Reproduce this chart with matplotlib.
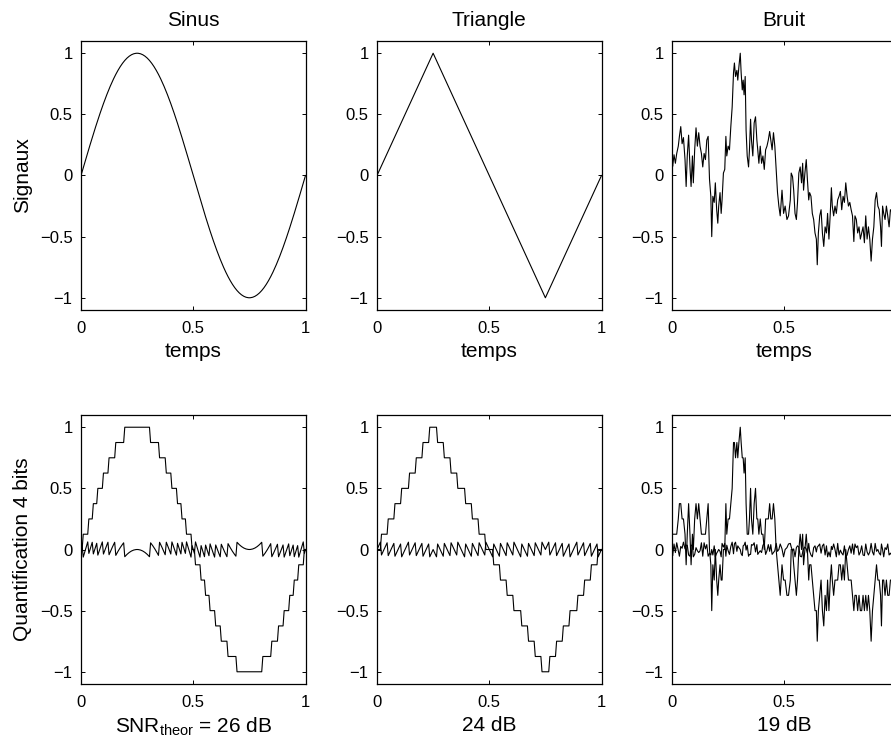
"""
Quantification 4 bits : sinus, triangle et bruit
"""
import numpy as np
import matplotlib
matplotlib.use('Agg')
import matplotlib.pyplot as plt

plt.rcParams['font.family'] = ['Liberation Sans', 'DejaVu Sans']
plt.rcParams['mathtext.fontset'] = 'custom'
plt.rcParams['mathtext.rm'] = 'Liberation Sans'
plt.rcParams['axes.unicode_minus'] = True

# --- data ---
titles = ['Sinus', 'Triangle', 'Bruit']
snr_labels = [r'SNR$_{\mathregular{theor}}$ = 26 dB', '24 dB', '19 dB']
row_labels = ['Signaux', 'Quantification 4 bits']
n_bits = 4

# first quarter period (0 -> 0.25), step 0.005
sinus_quarter = [0.0000, 0.0314, 0.0628, 0.0941, 0.1253, 0.1564, 0.1874, 0.2181,
                 0.2487, 0.2790, 0.3090, 0.3387, 0.3681, 0.3971, 0.4258, 0.4540,
                 0.4818, 0.5090, 0.5358, 0.5621, 0.5878, 0.6129, 0.6374, 0.6613,
                 0.6845, 0.7071, 0.7290, 0.7501, 0.7705, 0.7902, 0.8090, 0.8271,
                 0.8443, 0.8607, 0.8763, 0.8910, 0.9048, 0.9178, 0.9298, 0.9409,
                 0.9511, 0.9603, 0.9686, 0.9759, 0.9823, 0.9877, 0.9921, 0.9956,
                 0.9980, 0.9995, 1.0000]
triangle_quarter = [0.00, 0.02, 0.04, 0.06, 0.08, 0.10, 0.12, 0.14, 0.16, 0.18,
                    0.20, 0.22, 0.24, 0.26, 0.28, 0.30, 0.32, 0.34, 0.36, 0.38,
                    0.40, 0.42, 0.44, 0.46, 0.48, 0.50, 0.52, 0.54, 0.56, 0.58,
                    0.60, 0.62, 0.64, 0.66, 0.68, 0.70, 0.72, 0.74, 0.76, 0.78,
                    0.80, 0.82, 0.84, 0.86, 0.88, 0.90, 0.92, 0.94, 0.96, 0.98,
                    1.00]

noise_t = [0.000, 0.003, 0.009, 0.015, 0.021, 0.028, 0.033, 0.039, 0.045, 0.051,
           0.058, 0.063, 0.068, 0.074, 0.080, 0.085, 0.091, 0.095, 0.101, 0.107,
           0.113, 0.119, 0.125, 0.131, 0.137, 0.143, 0.149, 0.155, 0.161, 0.167,
           0.173, 0.177, 0.182, 0.188, 0.193, 0.199, 0.204, 0.208, 0.214, 0.219,
           0.223, 0.229, 0.235, 0.240, 0.244, 0.250, 0.256, 0.262, 0.268, 0.274,
           0.278, 0.283, 0.289, 0.293, 0.298, 0.304, 0.308, 0.313, 0.317, 0.321,
           0.326, 0.330, 0.335, 0.341, 0.345, 0.350, 0.354, 0.360, 0.366, 0.372,
           0.378, 0.382, 0.387, 0.393, 0.399, 0.405, 0.411, 0.417, 0.423, 0.429,
           0.435, 0.440, 0.446, 0.452, 0.458, 0.464, 0.470, 0.476,
           0.482, 0.490, 0.497, 0.504, 0.512, 0.519, 0.527, 0.531, 0.537, 0.542,
           0.548, 0.554, 0.559, 0.565, 0.571, 0.577, 0.582, 0.586, 0.592, 0.598,
           0.603, 0.609, 0.613, 0.619, 0.625, 0.631, 0.637, 0.643, 0.647, 0.652,
           0.658, 0.664, 0.670, 0.676, 0.682, 0.688, 0.693, 0.699, 0.705, 0.710,
           0.714, 0.720, 0.726, 0.732, 0.738, 0.744, 0.750, 0.756, 0.762, 0.768,
           0.774, 0.780, 0.786, 0.792, 0.798, 0.804, 0.810, 0.815, 0.821, 0.827,
           0.833, 0.839, 0.845, 0.851, 0.857, 0.863, 0.869, 0.875, 0.881, 0.887,
           0.893, 0.899, 0.905, 0.911, 0.917, 0.923, 0.929, 0.933, 0.938, 0.943,
           0.949, 0.955, 0.961, 0.967, 0.973, 0.980, 0.987, 0.993, 1.000]
noise_v = [0.10, 0.075, 0.17, 0.10, 0.18, 0.24, 0.32, 0.40, 0.26, 0.31,
           0.13, -0.09, 0.16, 0.33, 0.07, -0.09, 0.16, -0.06, 0.21, 0.39,
           0.24, 0.35, 0.24, 0.18, 0.07, 0.18, 0.13, 0.29, 0.32, -0.03,
           -0.17, -0.50, -0.17, -0.22, -0.06, -0.28, -0.39, -0.25, -0.14, -0.31,
           -0.20, 0.02, 0.05, 0.32, 0.16, 0.24, 0.21, 0.40, 0.56, 0.84,
           0.92, 0.81, 0.86, 0.78, 0.89, 1.00, 0.84, 0.70, 0.78, 0.66,
           0.81, 0.37, 0.16, 0.07, 0.21, 0.46, 0.29, 0.16, 0.43, 0.48,
           0.29, 0.21, 0.10, 0.24, 0.10, 0.16, 0.05, 0.21, 0.24, 0.29,
           0.36, 0.29, 0.21, 0.35, 0.24, 0.05, -0.14, -0.25,
           -0.33, -0.12, -0.31, -0.25, -0.36, -0.33, -0.20, 0.02, -0.01, -0.12,
           -0.31, -0.36, -0.22, 0.02, 0.07, -0.06, 0.10, -0.12, 0.02, 0.13,
           -0.03, -0.20, -0.14, -0.17, -0.31, -0.36, -0.47, -0.52, -0.73, -0.47,
           -0.33, -0.28, -0.47, -0.58, -0.42, -0.47, -0.31, -0.52, -0.31, -0.10,
           -0.25, -0.33, -0.25, -0.31, -0.20, -0.17, -0.13, -0.28, -0.17, -0.22,
           -0.06, -0.17, -0.25, -0.22, -0.28, -0.33, -0.54, -0.33, -0.36, -0.47,
           -0.42, -0.52, -0.47, -0.42, -0.55, -0.33, -0.52, -0.42, -0.52, -0.70,
           -0.52, -0.42, -0.20, -0.14, -0.25, -0.28, -0.42, -0.58, -0.25, -0.31,
           -0.36, -0.25, -0.33, -0.42, -0.28, -0.30, -0.40, -0.32, -0.36]

xticks = [0, 0.5, 1]
xtick_labels = ['0', '0.5', '1']
yticks = [-1, -0.5, 0, 0.5, 1]
ytick_labels = ['\u22121', '\u22120.5', '0', '0.5', '1']


def full_period(quarter):
    """rebuild a full period from its first quarter (odd / half-wave symmetry)"""
    q = np.asarray(quarter, dtype=float)
    half = np.concatenate([q, q[-2::-1]])
    return np.concatenate([half, -half[1:]])


def quantize(x, bits):
    step = 2.0 / 2 ** bits
    return np.round(np.asarray(x) / step) * step


sinus = full_period(sinus_quarter)
triangle = full_period(triangle_quarter)
t_grid = np.linspace(0, 1, len(sinus))

signals = [(t_grid, sinus), (t_grid, triangle),
           (np.asarray(noise_t), np.asarray(noise_v))]

# --- figure layout (pixels of a 891x745 canvas) ---
W, H = 891, 745
fig = plt.figure(figsize=(W / 100, H / 100), dpi=100, facecolor='white')
col_left = [81, 377, 672]
ax_w = 224.5
rows = [(41, 310), (415, 684)]

lw = 0.8
for r, (top, bot) in enumerate(rows):
    for c in range(3):
        ax = fig.add_axes([col_left[c] / W, (H - bot) / H, ax_w / W, (bot - top) / H])
        t, x = signals[c]
        if r == 0:
            ax.plot(t, x, color='black', lw=lw)
            ax.set_title(titles[c], fontsize=15, pad=11)
            ax.set_xlabel('temps', fontsize=15, labelpad=4)
        else:
            xq = quantize(x, n_bits)
            ax.plot(t, xq, color='black', lw=lw)
            ax.plot(t, x - xq, color='black', lw=lw)
            ax.set_xlabel(snr_labels[c], fontsize=15, labelpad=4)
        if c == 0:
            ax.set_ylabel(row_labels[r], fontsize=15, labelpad=6)

        ax.set_xlim(0, 1)
        ax.set_ylim(-1.1, 1.1)
        # the last column runs past the right edge: its "1" label is off-canvas
        labels = xtick_labels if c < 2 else xtick_labels[:2] + ['']
        ax.set_xticks(xticks, labels)
        ax.set_yticks(yticks, ytick_labels)
        ax.tick_params(direction='in', length=3, width=0.7, labelsize=12,
                       top=True, right=True, pad=6)
        ax.tick_params(axis='x', pad=8)
        for s in ax.spines.values():
            s.set_linewidth(0.9)

fig.savefig('out.png', dpi=100, facecolor='white')
